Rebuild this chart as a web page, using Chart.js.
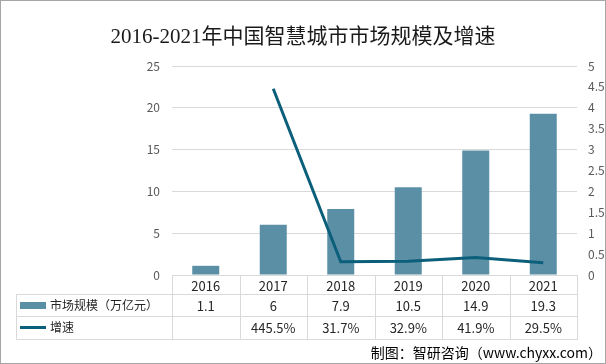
<!DOCTYPE html>
<html>
<head>
<meta charset="utf-8">
<script src="https://cdn.jsdelivr.net/npm/chart.js@4"></script>
<style>
html,body{margin:0;padding:0;background:#fff;}
#wrap{width:606px;height:364px;position:relative;}
</style>
</head>
<body>
<div id="wrap"><canvas id="c" width="606" height="364"></canvas></div>
<script>
const titleText = '2016-2021年中国智慧城市市场规模及增速';
const categories = ['2016', '2017', '2018', '2019', '2020', '2021'];
const marketSize = [1.1, 6, 7.9, 10.5, 14.9, 19.3];
const growthRate = [null, 4.455, 0.317, 0.329, 0.419, 0.295];
const marketSizeLabels = ['1.1', '6', '7.9', '10.5', '14.9', '19.3'];
const growthLabels = ['', '445.5%', '31.7%', '32.9%', '41.9%', '29.5%'];
const seriesNames = ['市场规模（万亿元）', '增速'];
const sourceText = '制图：智研咨询（www.chyxx.com）';

const BAR_COLOR = '#5b8fa6';
const LINE_COLOR = '#0b5f7b';
const GRID = '#d9d9d9';
const SANS = "'Noto Sans CJK SC', 'Open Sans', sans-serif";

const tablePlugin = {
  id: 'tablePlugin',
  afterDraw(chart) {
    const ctx = chart.ctx;
    const x = chart.scales.x;
    const area = chart.chartArea;
    const n = categories.length;
    const colW = (area.right - area.left) / n;
    const top = area.bottom;
    const r1 = top + 19, r2 = r1 + 22, r3 = r2 + 23;
    const tableLeft = 16;
    ctx.save();
    ctx.strokeStyle = GRID;
    ctx.lineWidth = 1;
    ctx.beginPath();
    for (let i = 0; i <= n; i++) {
      const px = Math.round(area.left + i * colW) + 0.5;
      ctx.moveTo(px, top);
      ctx.lineTo(px, r3);
    }
    ctx.moveTo(tableLeft + 0.5, r1);
    ctx.lineTo(tableLeft + 0.5, r3);
    [r1, r2, r3].forEach(y => {
      ctx.moveTo(tableLeft, y + 0.5);
      ctx.lineTo(area.right + 1, y + 0.5);
    });
    ctx.stroke();

    ctx.fillStyle = BAR_COLOR;
    ctx.fillRect(20, (r1 + r2) / 2 - 3, 26, 7);
    ctx.strokeStyle = LINE_COLOR;
    ctx.lineWidth = 3;
    ctx.beginPath();
    ctx.moveTo(20, (r2 + r3) / 2);
    ctx.lineTo(46, (r2 + r3) / 2);
    ctx.stroke();

    ctx.fillStyle = '#262626';
    ctx.font = '12px ' + SANS;
    ctx.textBaseline = 'middle';
    ctx.textAlign = 'left';
    ctx.fillText(seriesNames[0], 50, (r1 + r2) / 2);
    ctx.fillText(seriesNames[1], 50, (r2 + r3) / 2);

    ctx.font = '13px ' + SANS;
    ctx.textAlign = 'center';
    for (let i = 0; i < n; i++) {
      const cx = x.getPixelForValue(i);
      ctx.fillText(marketSizeLabels[i], cx, (r1 + r2) / 2 + 1);
      ctx.fillText(growthLabels[i], cx, (r2 + r3) / 2 + 1);
    }

    ctx.fillStyle = '#1a1a1a';
    ctx.font = "21px 'Liberation Serif', 'Noto Sans CJK SC', serif";
    ctx.textAlign = 'center';
    ctx.fillText(titleText, 303, 37);

    ctx.fillStyle = '#000';
    ctx.font = '14px ' + SANS;
    ctx.textAlign = 'right';
    ctx.fillText(sourceText, 602, 353);

    ctx.strokeStyle = '#a6a6a6';
    ctx.lineWidth = 1;
    ctx.strokeRect(0.5, 0.5, 605, 363);
    ctx.restore();
  }
};

new Chart(document.getElementById('c'), {
  data: {
    labels: categories,
    datasets: [
      {
        type: 'line',
        label: seriesNames[1],
        data: growthRate,
        yAxisID: 'y1',
        borderColor: LINE_COLOR,
        backgroundColor: LINE_COLOR,
        borderWidth: 3,
        pointRadius: 0,
        tension: 0,
        spanGaps: false,
        order: 0
      },
      {
        type: 'bar',
        label: seriesNames[0],
        data: marketSize,
        yAxisID: 'y',
        backgroundColor: BAR_COLOR,
        barPercentage: 0.8,
        categoryPercentage: 0.5,
        order: 1
      }
    ]
  },
  options: {
    responsive: false,
    animation: false,
    devicePixelRatio: 1,
    layout: { padding: { top: 66, left: 0, right: 0, bottom: 0 } },
    plugins: { legend: { display: false }, title: { display: false }, tooltip: { enabled: false } },
    scales: {
      x: {
        type: 'category',
        offset: true,
        grid: { display: false, drawTicks: false },
        border: { display: true, color: GRID },
        ticks: { color: '#262626', font: { size: 13, family: SANS }, padding: 3, maxRotation: 0 },
        afterFit(s) { s.height = 89; }
      },
      y: {
        position: 'left',
        min: 0, max: 25,
        ticks: { stepSize: 5, color: '#595959', font: { size: 12, family: SANS }, padding: 12 },
        grid: { color: GRID, drawTicks: false },
        border: { display: false },
        afterFit(s) { s.width = 172; }
      },
      y1: {
        position: 'right',
        min: 0, max: 5,
        ticks: { stepSize: 0.5, color: '#595959', font: { size: 12, family: SANS }, padding: 11,
                 callback: v => String(Math.round(v * 10) / 10) },
        grid: { display: false, drawTicks: false },
        border: { display: false },
        afterFit(s) { s.width = 29; }
      }
    }
  },
  plugins: [tablePlugin]
});
</script>
</body>
</html>
